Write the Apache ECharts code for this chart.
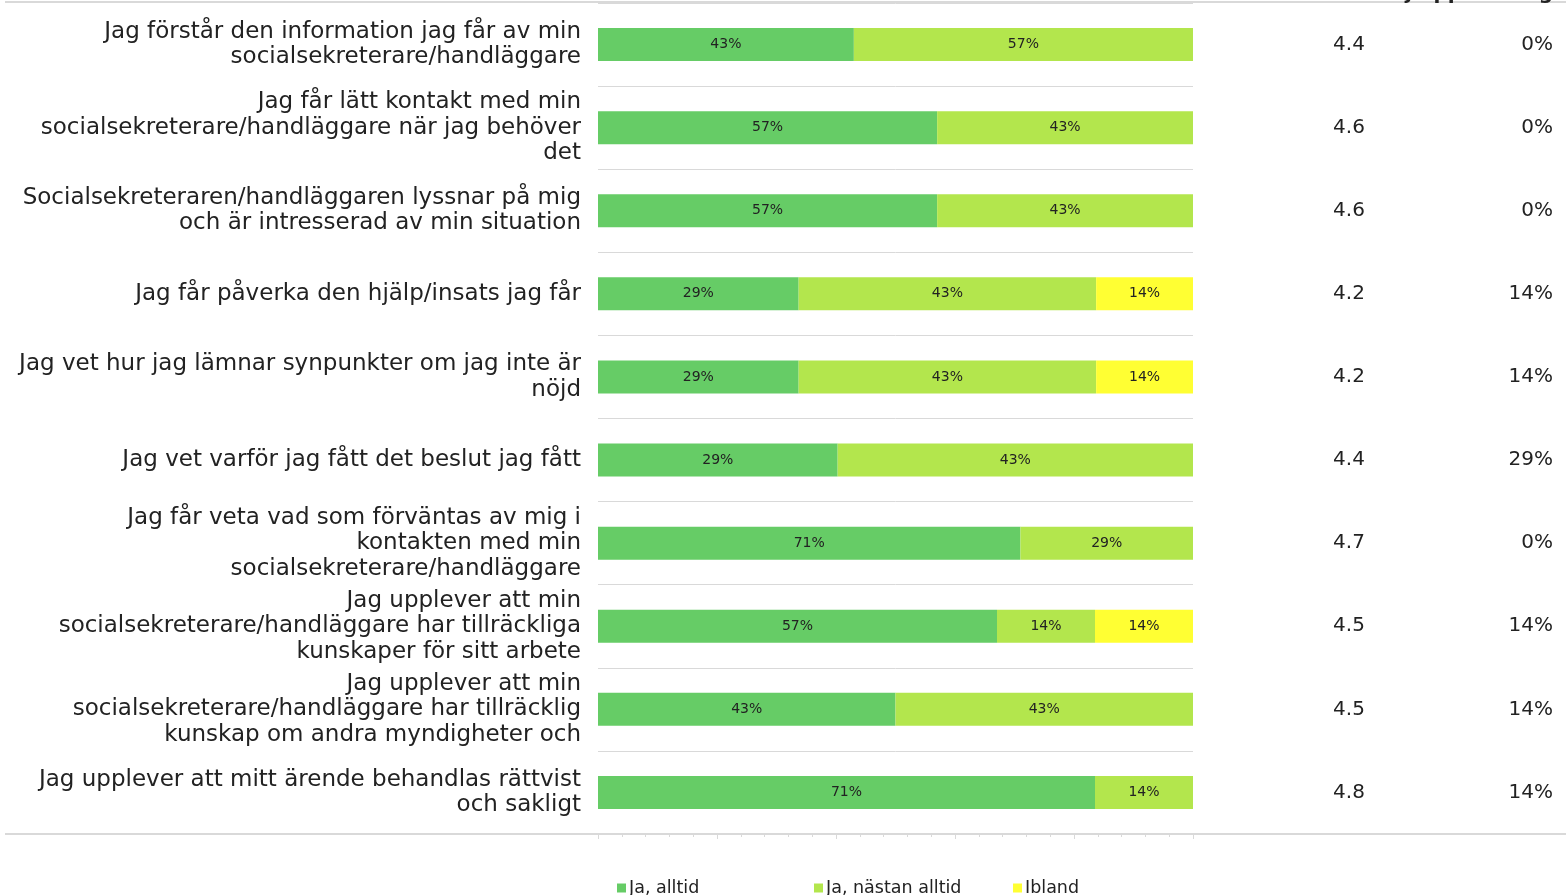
<!DOCTYPE html>
<html>
<head>
<meta charset="utf-8">
<script src="https://cdn.jsdelivr.net/npm/echarts@6/dist/echarts.min.js"></script>
<style>
html,body{margin:0;padding:0;background:#fff;}
#chart{width:1566px;height:895px;}
</style>
</head>
<body>
<div id="chart"></div>
<script>
const categories = [
  "Jag förstår den information jag får av min\nsocialsekreterare/handläggare",
  "Jag får lätt kontakt med min\nsocialsekreterare/handläggare när jag behöver\ndet",
  "Socialsekreteraren/handläggaren lyssnar på mig\noch är intresserad av min situation",
  "Jag får påverka den hjälp/insats jag får",
  "Jag vet hur jag lämnar synpunkter om jag inte är\nnöjd",
  "Jag vet varför jag fått det beslut jag fått",
  "Jag får veta vad som förväntas av mig i\nkontakten med min\nsocialsekreterare/handläggare",
  "Jag upplever att min\nsocialsekreterare/handläggare har tillräckliga\nkunskaper för sitt arbete",
  "Jag upplever att min\nsocialsekreterare/handläggare har tillräcklig\nkunskap om andra myndigheter och",
  "Jag upplever att mitt ärende behandlas rättvist\noch sakligt"
];
const seriesNames = ["Ja, alltid", "Ja, nästan alltid", "Ibland"];
const jaAlltid      = [43, 57, 57, 29, 29, 29, 71, 57, 43, 71];
const jaNastanAlltid = [57, 43, 43, 43, 43, 43, 29, 14, 43, 14];
const ibland        = [0, 0, 0, 14, 14, 0, 0, 14, 0, 0];
const medel         = [4.4, 4.6, 4.6, 4.2, 4.2, 4.4, 4.7, 4.5, 4.5, 4.8];
const ingenUppfattning = [0, 0, 0, 14, 14, 29, 0, 14, 14, 14];
const headerText = "Ej uppfattning";

const colors = ["#66CC66", "#B3E64D", "#FFFF33"];
const FONT = "DejaVu Sans";
const raw = [jaAlltid, jaNastanAlltid, ibland];
// bar lengths are shares of the answers shown (no-opinion excluded)
const totals = categories.map((c, i) => raw.reduce((s, arr) => s + arr[i], 0));

const chart = echarts.init(document.getElementById('chart'), null, {renderer: 'canvas'});
const series = raw.map((arr, k) => ({
  name: seriesNames[k],
  type: 'bar',
  stack: 'total',
  barWidth: 33,
  itemStyle: {color: colors[k]},
  data: arr.map((v, i) => v / totals[i]),
  label: {
    show: true,
    position: 'inside',
    fontFamily: FONT,
    fontSize: 14,
    color: '#222',
    formatter: p => arr[p.dataIndex] > 0 ? arr[p.dataIndex] + '%' : ''
  }
}));

const legendLefts = [612, 809, 1008];
const legends = seriesNames.map((n, k) => ({
  data: [n],
  left: legendLefts[k],
  top: 874,
  itemWidth: 9,
  itemHeight: 9,
  icon: 'rect',
  textStyle: {fontFamily: FONT, fontSize: 17.5, color: '#222', padding: [0, 0, 0, -2]}
}));

chart.setOption({
  backgroundColor: '#fff',
  animation: false,
  textStyle: {fontFamily: FONT},
  grid: {left: 598, right: 373, top: 3, bottom: 61},
  legend: legends,
  xAxis: {
    type: 'value',
    min: 0,
    max: 1,
    interval: 0.2,
    axisLine: {show: true, lineStyle: {color: '#D9D9D9', width: 2}},
    axisTick: {show: true, length: 5, lineStyle: {color: '#D9D9D9', width: 1}},
    minorTick: {show: true, splitNumber: 5, length: 3, lineStyle: {color: '#D9D9D9', width: 1}},
    axisLabel: {show: false},
    splitLine: {show: false}
  },
  yAxis: [
    {
      type: 'category',
      inverse: true,
      data: categories,
      axisLine: {show: false},
      axisTick: {show: false},
      splitLine: {show: true, lineStyle: {color: '#D9D9D9', width: 1}},
      axisLabel: {
        fontFamily: FONT, fontSize: 23, color: '#222', lineHeight: 25.5,
        align: 'right', margin: 17, padding: [4, 0, 0, 0]
      }
    },
    {
      type: 'category',
      inverse: true,
      position: 'right',
      data: categories,
      axisLine: {show: false},
      axisTick: {show: false},
      splitLine: {show: false},
      axisLabel: {
        fontFamily: FONT, fontSize: 20, color: '#222',
        align: 'center', margin: 156,
        formatter: (v, i) => medel[i].toFixed(1)
      }
    },
    {
      type: 'category',
      inverse: true,
      position: 'right',
      data: categories,
      axisLine: {show: false},
      axisTick: {show: false},
      splitLine: {show: false},
      axisLabel: {
        fontFamily: FONT, fontSize: 20, color: '#222',
        align: 'right', margin: 360,
        formatter: (v, i) => ingenUppfattning[i] + '%'
      }
    }
  ],
  series: series,
  graphic: [
    {type: 'rect', shape: {x: 5, y: 1, width: 1561, height: 2}, style: {fill: '#D9D9D9'}, silent: true},
    {type: 'rect', shape: {x: 5, y: 833, width: 1561, height: 2}, style: {fill: '#D9D9D9'}, silent: true, z: -1},
    {type: 'text', x: 1553, y: 4, style: {text: headerText, align: 'right', verticalAlign: 'bottom', font: 'bold 20px "DejaVu Sans"', fill: '#222'}, silent: true}
  ]
});
</script>
</body>
</html>
